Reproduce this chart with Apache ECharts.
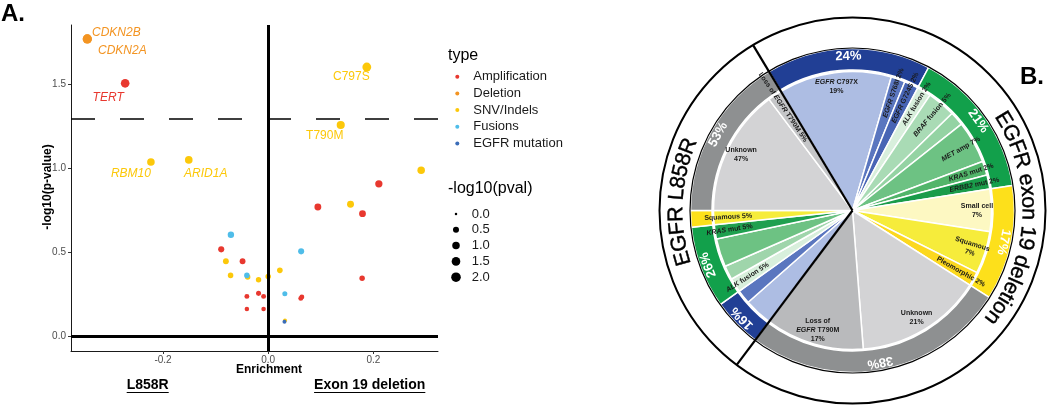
<!DOCTYPE html>
<html><head><meta charset="utf-8">
<script src="https://cdn.jsdelivr.net/npm/echarts@6/dist/echarts.min.js"></script>
<style>html,body{margin:0;padding:0;background:#fff}#c{width:1050px;height:407px}</style>
</head><body><div id="c"></div>
<script>
// ================= DATA =================
// Panel A: enrichment (x) vs -log10(p-value) (y); optional 3rd entry = gene label
const typeNames = ['Amplification', 'Deletion', 'SNV/Indels', 'Fusions', 'EGFR mutation'];
const amplification = [[-0.272, 1.508, 'TERT'], [0.2105, 0.91], [0.0945, 0.772], [0.1794, 0.732], [-0.0893, 0.52],
  [-0.0487, 0.449], [0.1787, 0.348], [-0.0183, 0.258], [-0.0405, 0.240], [-0.0087, 0.240], [0.064, 0.236],
  [0.062, 0.228], [-0.0405, 0.165], [-0.0087, 0.165]];
const deletion = [[-0.344, 1.772, 'CDKN2B'], [-0.344, 1.772, 'CDKN2A']];
const snvIndels = [[0.1876, 1.605, 'C797S'], [0.138, 1.26, 'T790M'], [-0.223, 1.04, 'RBM10'], [-0.151, 1.052, 'ARID1A'],
  [0.291, 0.99], [0.1566, 0.788], [-0.0804, 0.449], [0.0222, 0.395], [-0.0715, 0.365], [-0.039, 0.356],
  [-0.0183, 0.339], [0.0, 0.359], [0.032, 0.097]];
const fusions = [[-0.0709, 0.607], [0.0627, 0.508], [-0.0405, 0.365], [0.0317, 0.256]];
const egfrMutation = [[0.031, 0.089]];
const xTicks = [-0.2, 0, 0.2];
const yTicks = [0, 0.5, 1.0, 1.5];
const sizeLegendValues = [0, 0.5, 1.0, 1.5, 2.0];
const significanceLine = 1.301;
const panelASideLabels = ['L858R', 'Exon 19 deletion'];

// Panel B: resistance mechanisms (patient counts)
const groupTitles = ['EGFR exon 19 deletion', 'EGFR L858R'];
const classNames = ['EGFR', 'Bypass', 'Histologic', 'Unknown'];
const exon19Labels = ['EGFR C797X', 'EGFR S768I', 'EGFR G724S', 'ALK fusion', 'BRAF fusion', 'RET fusion', 'MET amp',
  'KRAS mut', 'ERBB2 mut', 'Small cell', 'Squamous', 'Pleomorphic', 'Unknown', 'Loss of EGFR T790M'];
const exon19Counts = [8, 1, 1, 1, 2, 1, 3, 1, 1, 3, 3, 1, 9, 7];
const exon19Class = ['EGFR', 'EGFR', 'EGFR', 'Bypass', 'Bypass', 'Bypass', 'Bypass', 'Bypass', 'Bypass',
  'Histologic', 'Histologic', 'Histologic', 'Unknown', 'Unknown'];
const l858rLabels = ['EGFR C797X', 'EGFR amp', 'ALK fusion', 'MET ex14 alt', 'MET amp', 'KRAS mut', 'Squamous',
  'Unknown', 'Loss of EGFR T790M'];
const l858rCounts = [2, 1, 1, 1, 2, 1, 1, 9, 1];
const l858rClass = ['EGFR', 'EGFR', 'Bypass', 'Bypass', 'Bypass', 'Bypass', 'Histologic', 'Unknown', 'Unknown'];

// ================= STYLE =================
const TYPE_COLORS = ['#e8382f', '#f39422', '#fcc80a', '#4fbde9', '#3b6db8'];
const geneLabelStyle = {
  TERT: { offset: [-17, 14], italic: true },
  CDKN2B: { offset: [29, -6], italic: true },
  CDKN2A: { offset: [35, 12], italic: true },
  C797S: { offset: [-15.5, 10], italic: false },
  T790M: { offset: [-16, 11], italic: false },
  RBM10: { offset: [-20, 12], italic: true },
  ARID1A: { offset: [17, 14], italic: true }
};
const exon19Colors = ['#adbde3', '#5a76bf', '#4865b5', '#d8efdc', '#a9dbb5', '#94d3a3', '#6dc283', '#52b56a', '#1a9c4a',
  '#fdf8c2', '#f6ec3b', '#fcd81e', '#d3d3d5', '#b9babc'];
const l858rColors = ['#adbde3', '#5a76bf', '#d8efdc', '#9fd5ab', '#6dc283', '#1fa04f', '#f6ec3b', '#d3d3d5', '#c5c6c8'];
const ringColors = { EGFR: '#213f95', Bypass: '#12a04b', Histologic: '#fde01b', Unknown: '#8e9091' };
// label mode: 'h' = horizontal multi-line, 'r2' = radial two lines, default radial single line
const labelModes = [
  { 'EGFR C797X': 'h', 'Unknown': 'h', 'Loss of EGFR T790M': 'h', 'Small cell': 'r2', 'Squamous': 'r2' },
  { 'Unknown': 'h' }
];
const CX = 852.5, CY = 210.5;
const R_INNER = 139, R_RING0 = 140.5, R_RING1 = 162, R_OUTER = 193, R_TITLE = 176;
const TOP_BOUNDARY = 329; // degrees clockwise from 12 o'clock
const FONT = '"Liberation Sans", Arial, sans-serif';

// ================= BUILD =================
const chart = echarts.init(document.getElementById('c'), null, { renderer: 'canvas', width: 1050, height: 407 });
const pointSize = v => 2.5 + 5.0 * Math.sqrt(Math.max(v, 0));
const seriesSets = [amplification, deletion, snvIndels, fusions, egfrMutation];

const scatterSeries = typeNames.map((t, i) => ({
  type: 'scatter', name: t, xAxisIndex: 0, yAxisIndex: 0,
  symbolSize: v => pointSize(v[1]),
  itemStyle: { color: TYPE_COLORS[i], opacity: 1 },
  silent: true,
  data: seriesSets[i].map(p => {
    const o = { value: [p[0], p[1]] };
    if (p[2]) {
      const st = geneLabelStyle[p[2]];
      o.label = { show: true, formatter: p[2], position: 'inside', offset: st.offset, color: TYPE_COLORS[i],
        fontSize: 12, fontFamily: FONT, fontStyle: st.italic ? 'italic' : 'normal' };
    }
    return o;
  }),
  markLine: i === 0 ? {
    silent: true, symbol: ['none', 'none'], label: { show: false }, animation: false,
    data: [
      { xAxis: 0, lineStyle: { color: '#000', width: 3, type: 'solid' } },
      { yAxis: 0, lineStyle: { color: '#000', width: 3, type: 'solid' } },
      { yAxis: significanceLine, lineStyle: { color: '#000', width: 1.6, type: [24, 25] } }
    ]
  } : undefined
}));

// ----- Panel B data assembly -----
const groups = [
  { labels: exon19Labels, counts: exon19Counts, cls: exon19Class, colors: exon19Colors, modes: labelModes[0] },
  { labels: l858rLabels, counts: l858rCounts, cls: l858rClass, colors: l858rColors, modes: labelModes[1] }
];
const total = groups.reduce((s, g) => s + g.counts.reduce((a, b) => a + b, 0), 0);
const degPer = 360 / total;
const italicGenes = s => s.replace(/\b(EGFR|KRAS|MET|ALK|BRAF|RET|ERBB2)\b/g, '{i|$1}');
const innerData = [], labelData = [], ringData = [];
let cum = 0;
const groupSpans = [];
groups.forEach(g => {
  const gTotal = g.counts.reduce((a, b) => a + b, 0);
  groupSpans.push({ start: TOP_BOUNDARY + cum * degPer, span: gTotal * degPer });
  g.labels.forEach((lab, k) => {
    const pct = Math.round(g.counts[k] / gTotal * 100) + '%';
    const mode = g.modes[lab];
    let txt;
    if (mode === 'h') {
      txt = lab === 'Loss of EGFR T790M' ? 'Loss of\n' + italicGenes('EGFR T790M') + '\n' + pct : italicGenes(lab) + '\n' + pct;
    } else if (mode === 'r2') {
      txt = italicGenes(lab) + '\n' + pct;
    } else {
      txt = italicGenes(lab) + ' ' + pct;
    }
    innerData.push({ value: g.counts[k], name: lab, itemStyle: { color: g.colors[k] } });
    labelData.push({ value: g.counts[k], name: lab, txt: txt, label: { rotate: mode === 'h' ? 0 : 'radial' } });
  });
  classNames.forEach(c => {
    const v = g.counts.reduce((s, x, k) => s + (g.cls[k] === c ? x : 0), 0);
    if (!v) return;
    const mid = TOP_BOUNDARY + (cum + v / 2) * degPer;
    let rot = (((-mid) % 360) + 540) % 360 - 180;
    ringData.push({ value: v, name: c, itemStyle: { color: ringColors[c] },
      label: { rotate: rot, formatter: Math.round(v / gTotal * 100) + '%' } });
    cum += v;
  });
});

const pieCommon = { type: 'pie', center: [CX, CY], startAngle: 90 - TOP_BOUNDARY, clockwise: true, silent: true,
  avoidLabelOverlap: false, labelLine: { show: false }, emphasis: { disabled: true }, animation: false };

const pieSeries = [
  Object.assign({}, pieCommon, { radius: [0, R_INNER], data: innerData,
    itemStyle: { borderColor: '#fff', borderWidth: 1.5 }, label: { show: false }, z: 2 }),
  Object.assign({}, pieCommon, { radius: [R_RING0, R_RING1], data: ringData,
    itemStyle: { borderColor: '#fff', borderWidth: 1.5 },
    label: { show: true, position: 'inside', color: '#fff', fontSize: 13, fontWeight: 'bold', fontFamily: FONT }, z: 2 }),
  Object.assign({}, pieCommon, { radius: [104, R_INNER], data: labelData,
    itemStyle: { color: 'rgba(0,0,0,0)', borderWidth: 0 },
    label: { show: true, position: 'inside', formatter: p => p.data.txt, color: '#1a1a1a', fontSize: 7,
      fontWeight: 'bold', fontFamily: FONT, lineHeight: 9,
      rich: { i: { fontStyle: 'italic', fontWeight: 'bold', fontSize: 7, fontFamily: FONT, color: '#1a1a1a', lineHeight: 9 } } },
    z: 5 })
];

// ----- graphics -----
const g = [];
const measure = (() => { const ctx = document.createElement('canvas').getContext('2d'); return (t, f) => { ctx.font = f; return ctx.measureText(t).width; }; })();
function txt(x, y, text, font, opts) {
  return Object.assign({ type: 'text', x: x, y: y, z: 100, silent: true,
    style: Object.assign({ text: text, font: font, fill: '#000', textAlign: 'left', textVerticalAlign: 'middle' }, opts || {}) });
}
g.push(txt(1, 14, 'A.', 'bold 24px ' + FONT));
g.push(txt(1020, 77, 'B.', 'bold 24px ' + FONT));
g.push(txt(269, 370, 'Enrichment', 'bold 12px ' + FONT, { textAlign: 'center' }));
g.push(Object.assign(txt(48, 187, '-log10(p-value)', 'bold 12px ' + FONT, { textAlign: 'center' }), { rotation: Math.PI / 2 }));
[[147.7, panelASideLabels[0]], [369.7, panelASideLabels[1]]].forEach(([cx, t]) => {
  const f = 'bold 14px ' + FONT;
  const w = measure(t, f);
  g.push(txt(cx, 385, t, f, { textAlign: 'center' }));
  g.push({ type: 'line', z: 100, silent: true, shape: { x1: cx - w / 2, y1: 392.5, x2: cx + w / 2, y2: 392.5 }, style: { stroke: '#000', lineWidth: 1.2 } });
});
// legend: type
g.push(txt(448, 56, 'type', '16px ' + FONT));
typeNames.forEach((t, i) => {
  const y = 76.7 + i * 16.7;
  g.push({ type: 'circle', z: 100, silent: true, shape: { cx: 457.3, cy: y, r: 2 }, style: { fill: TYPE_COLORS[i] } });
  g.push(txt(473.3, y, t, '13px ' + FONT, { fill: '#1a1a1a' }));
});
// legend: size
g.push(txt(448, 188.5, '-log10(pval)', '16px ' + FONT));
sizeLegendValues.forEach((v, i) => {
  const y = 214 + i * 15.8;
  g.push({ type: 'circle', z: 100, silent: true, shape: { cx: 456, cy: y, r: pointSize(v) / 2 }, style: { fill: '#000' } });
  g.push(txt(471.7, y, v.toFixed(1), '13px ' + FONT, { fill: '#1a1a1a' }));
});
// panel B outlines
g.push({ type: 'circle', z: 100, silent: true, shape: { cx: CX, cy: CY, r: R_RING1 + 0.5 }, style: { fill: 'none', stroke: '#000', lineWidth: 1.2 } });
g.push({ type: 'circle', z: 100, silent: true, shape: { cx: CX, cy: CY, r: R_OUTER }, style: { fill: 'none', stroke: '#000', lineWidth: 2 } });
groupSpans.forEach(s => {
  const a = s.start * Math.PI / 180;
  g.push({ type: 'line', z: 101, silent: true, shape: { x1: CX, y1: CY, x2: CX + R_OUTER * Math.sin(a), y2: CY - R_OUTER * Math.cos(a) },
    style: { stroke: '#000', lineWidth: 2.2 } });
});
// curved group titles
groupTitles.forEach((title, gi) => {
  const font = '21.5px ' + FONT;
  const chars = [...title];
  const widths = chars.map(ch => measure(ch, font));
  const tw = widths.reduce((a, b) => a + b, 0);
  const midDeg = groupSpans[gi].start + groupSpans[gi].span / 2;
  let ang = midDeg * Math.PI / 180 - tw / 2 / R_TITLE;
  chars.forEach((ch, i) => {
    const a = ang + widths[i] / 2 / R_TITLE;
    g.push({ type: 'text', z: 100, silent: true, x: CX + R_TITLE * Math.sin(a), y: CY - R_TITLE * Math.cos(a), rotation: -a,
      style: { text: ch, font: font, fill: '#000', textAlign: 'center', textVerticalAlign: 'middle', stroke: '#000', lineWidth: 0.4 } });
    ang += widths[i] / R_TITLE;
  });
});

chart.setOption({
  animation: false,
  backgroundColor: '#fff',
  grid: { left: 71, top: 25, width: 367, height: 326, containLabel: false },
  xAxis: {
    type: 'value', min: -0.375, max: 0.323, splitLine: { show: false },
    axisLine: { show: true, onZero: false, lineStyle: { color: '#1a1a1a', width: 1 } },
    axisTick: { show: true, customValues: xTicks, length: 3, lineStyle: { color: '#333' } },
    axisLabel: { customValues: xTicks, formatter: v => v.toFixed(1), color: '#4d4d4d', fontSize: 10, fontFamily: FONT, margin: 4 }
  },
  yAxis: {
    type: 'value', min: -0.085, max: 1.855, splitLine: { show: false },
    axisLine: { show: true, onZero: false, lineStyle: { color: '#1a1a1a', width: 1 } },
    axisTick: { show: true, customValues: yTicks, length: 3, lineStyle: { color: '#333' } },
    axisLabel: { customValues: yTicks, formatter: v => v.toFixed(1), color: '#4d4d4d', fontSize: 10, fontFamily: FONT, margin: 5 }
  },
  series: scatterSeries.concat(pieSeries),
  graphic: g
});
</script></body></html>
